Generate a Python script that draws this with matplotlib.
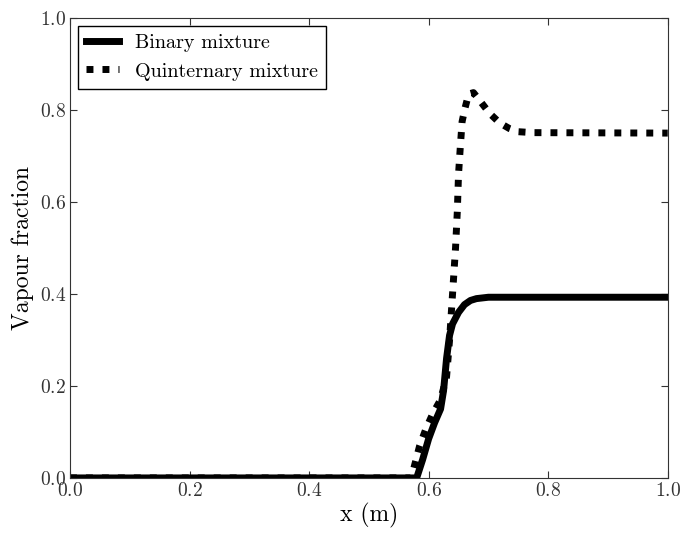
import matplotlib
matplotlib.use("Agg")
import matplotlib.pyplot as plt

plt.rcParams["font.family"] = ["cmr10", "DejaVu Serif"]
plt.rcParams["axes.formatter.use_mathtext"] = True
plt.rcParams["mathtext.fontset"] = "cm"

# Binary mixture vapour fraction
x_bin = [0.0, 0.58, 0.59, 0.60, 0.61, 0.62, 0.625, 0.63, 0.635, 0.64, 0.65,
         0.66, 0.67, 0.68, 0.70, 1.0]
y_bin = [0.0, 0.0, 0.04, 0.085, 0.12, 0.15, 0.19, 0.26, 0.31, 0.335, 0.36,
         0.377, 0.386, 0.39, 0.393, 0.393]

# Quinternary mixture vapour fraction
x_quin = [0.0, 0.57, 0.575, 0.585, 0.595, 0.607, 0.62, 0.63, 0.635, 0.64,
          0.645, 0.648, 0.650, 0.653, 0.656, 0.661, 0.667, 0.675, 0.686,
          0.702, 0.719, 0.735, 0.75, 0.775, 1.0]
y_quin = [0.0, 0.0, 0.02, 0.07, 0.105, 0.14, 0.17, 0.22, 0.30, 0.40,
          0.50, 0.58, 0.66, 0.72, 0.775, 0.805, 0.835, 0.838, 0.82,
          0.793, 0.772, 0.76, 0.753, 0.751, 0.75]

fig = plt.figure(figsize=(6.97, 5.34), dpi=100)
ax = fig.add_axes([0.1004, 0.105, 0.8576, 0.861])

ax.plot(x_bin, y_bin, color="black", lw=5, label="Binary mixture")
ax.plot(x_quin, y_quin, color="black", lw=5, linestyle=(0, (1, 1.3)),
        dash_capstyle="butt", label="Quinternary mixture")

ax.set_xlim(0, 1)
ax.set_ylim(0, 1)
ax.set_xticks([0.0, 0.2, 0.4, 0.6, 0.8, 1.0])
ax.set_yticks([0.0, 0.2, 0.4, 0.6, 0.8, 1.0])
ax.tick_params(direction="in", top=True, right=True, labelsize=14, length=5,
               pad=3, colors="#333333")
for s in ax.spines.values():
    s.set_color("#333333")
ax.set_xlabel("x (m)", fontsize=17, labelpad=2)
ax.set_ylabel("Vapour fraction", fontsize=17, labelpad=4)

leg = ax.legend(loc="upper left", fontsize=14.5, handlelength=1.65,
                fancybox=False, edgecolor="black", framealpha=1,
                borderaxespad=0.4)
leg.get_frame().set_linewidth(1)

fig.savefig("out.png", dpi=100)
